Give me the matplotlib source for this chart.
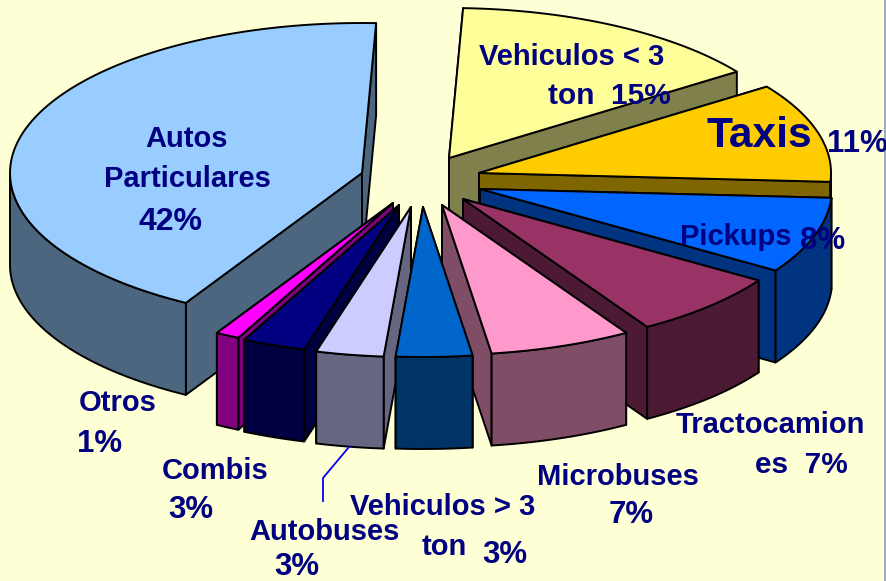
import numpy as np
import matplotlib
matplotlib.use("Agg")
import matplotlib.pyplot as plt
from matplotlib.patches import Polygon
from matplotlib.colors import to_rgb

# ---- data ----
categories = ["Autos Particulares", "Otros", "Combis", "Autobuses", "Vehiculos > 3 ton",
              "Microbuses", "Tractocamiones", "Pickups", "Taxis", "Vehiculos < 3 ton"]
values = [42.3, 1.1, 2.9, 3.1, 3.49, 6.51, 7.1, 8.2, 10.7, 14.6]
colors = ["#99CCFF", "#FF00FF", "#000080", "#CCCCFF", "#0066CC",
          "#FF99CC", "#993366", "#0066FF", "#FFCC00", "#FFFF99"]

# ---- layout (pixels of the 887x581 figure) ----
W, H = 887, 581
start_angle = 87.7
rx, ry, depth = 352, 150, 92
apex_x = [362, 393, 399, 411, 423, 442, 463, 480, 479, 449]
apex_y = [173, 203, 205, 207, 207, 205, 199, 189, 173, 158]
draw_order = [9, 8, 7, 6, 0, 1, 2, 3, 5, 4]
BG = "#FFFFD5"
NAVY = "#000080"
LW = 1.4

fig = plt.figure(figsize=(W / 100, H / 100), dpi=100, facecolor=BG)
ax = fig.add_axes([0, 0, 1, 1])
ax.set_xlim(0, W)
ax.set_ylim(H, 0)
ax.axis("off")

# thin grey strip on the right edge of the picture
ax.axvspan(884, W, color="#9AAFBA", lw=0, zorder=0)

def dark(c):
    return tuple(v * 0.5 for v in to_rgb(c))

def poly(pts, fc, z):
    ax.add_patch(Polygon(pts, closed=True, fc=fc, ec="black", lw=LW, joinstyle="round", zorder=z))

sweeps = np.array(values) / sum(values) * 360
bounds = start_angle + np.concatenate([[0], np.cumsum(sweeps)])

z = 1
for i in draw_order:
    t0, t1 = bounds[i], bounds[i + 1]
    cx, cy = apex_x[i], apex_y[i]
    t = np.radians(np.linspace(t0, t1, 90))
    px = cx + rx * np.cos(t)
    py = cy - ry * np.sin(t)
    side = dark(colors[i])
    # radial faces, far one first
    for k in sorted((0, -1), key=lambda k: py[k]):
        poly([(cx, cy), (px[k], py[k]), (px[k], py[k] + depth), (cx, cy + depth)], side, z)
        z += 1
    # outer face: the part of the rim on the near half of the ellipse
    deg = np.degrees(t) % 360
    mask = deg >= 180
    if mask.any():
        xs, ys = px[mask], py[mask]
        poly(list(zip(xs, ys)) + list(zip(xs[::-1], ys[::-1] + depth)), side, z)
        z += 1
    # top face
    poly([(cx, cy)] + list(zip(px, py)), colors[i], z)
    z += 1

# leader line of the Autobuses label
ax.plot([349, 323, 323], [447, 478, 501], color="#0000FF", lw=1.3, zorder=z)
z += 1

# ---- labels ----
font = ["Liberation Sans", "DejaVu Sans"]
label_text = ["Autos", "Particulares", "42%", "Vehiculos < 3", "ton  15%", "Taxis", "11%",
              "Pickups", "8%", "Tractocamion", "es  7%", "Microbuses", "7%",
              "Vehiculos > 3", "ton", "3%", "Autobuses", "3%", "Combis", "3%", "Otros", "1%"]
label_x = [187, 187, 171, 572, 609, 759, 857, 736, 823, 770, 801, 618, 631,
           443, 444, 505, 324, 297, 215, 191, 118, 100]
label_y = [139, 179, 222, 57, 96, 136, 144, 237, 241, 425, 465, 477, 515,
           507, 547, 555, 532, 567, 471, 510, 403, 444]
label_size = [21, 21, 23, 21, 21.5, 30.5, 22.5, 21, 22.5, 21, 21.5, 21, 22.5,
              21, 21, 22.5, 21, 22.5, 21, 22.5, 21, 22.5]
for s, x, y, fs in zip(label_text, label_x, label_y, label_size):
    ax.text(x, y, s, family=font, weight="bold", fontsize=fs, color=NAVY,
            ha="center", va="center", zorder=z)

fig.savefig("out.png", dpi=100, facecolor=BG)
